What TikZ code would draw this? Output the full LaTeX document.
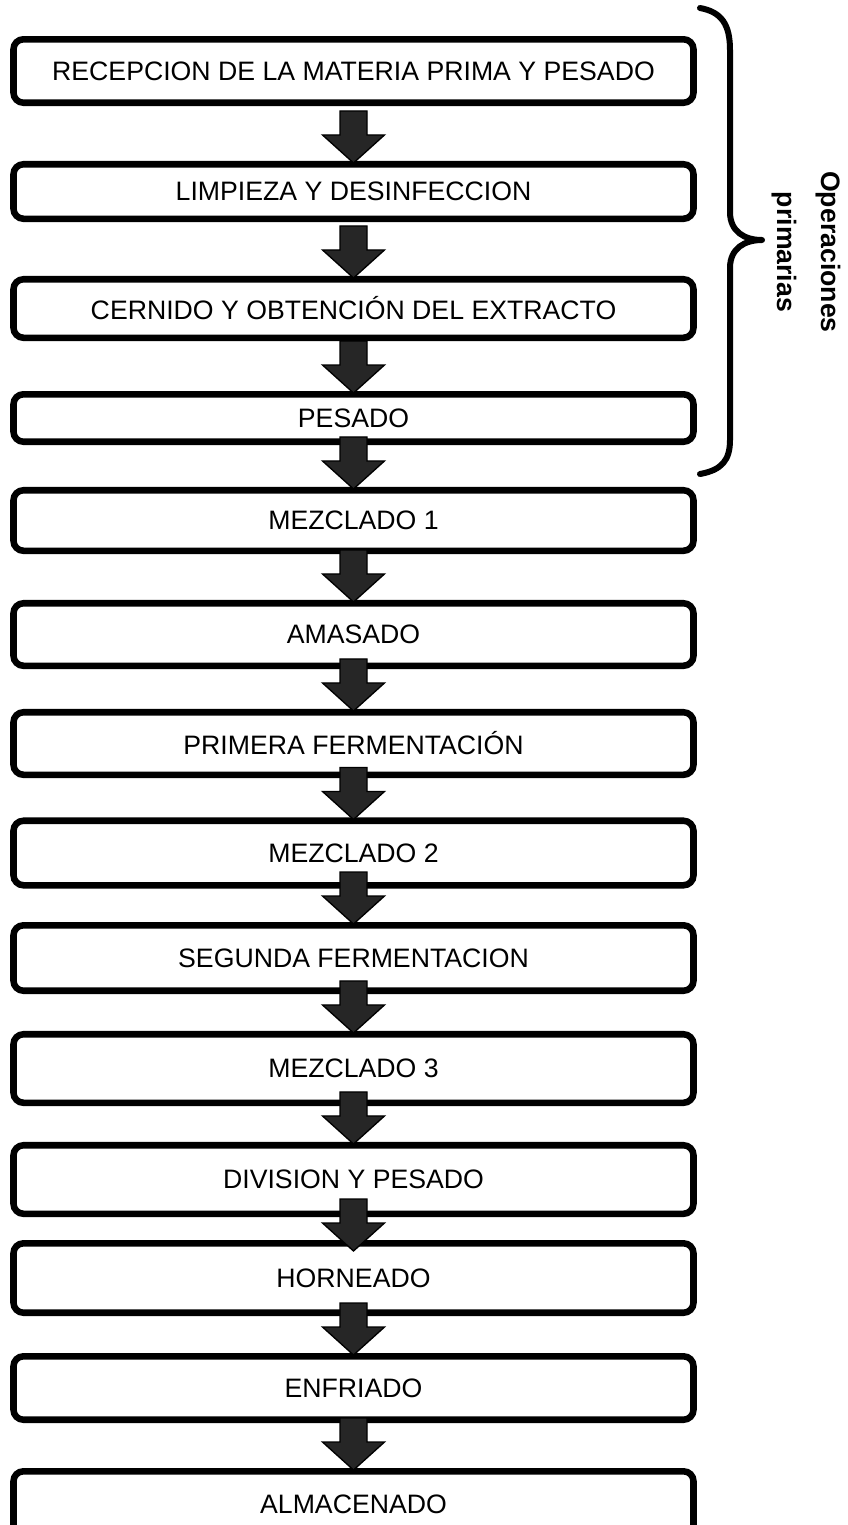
\documentclass[tikz,border=0pt]{standalone}
\usepackage{fontspec}
\setmainfont{Liberation Sans}
\usetikzlibrary{calc}
\newcommand{\flecha}[3][0]{%
  \path ($(#2.south |- #3.north)+(0,#1)$) coordinate (t);
  \draw[flechastyle] ($(t)+(-13.5,-50)$) -- ($(t)+(13.5,-50)$) -- ($(t)+(13.5,-26)$)
    -- ($(t)+(31,-26)$) -- ($(t)+(0,2)$) -- ($(t)+(-31,-26)$) -- ($(t)+(-13.5,-26)$) -- cycle;}
\begin{document}
\begin{tikzpicture}[x=0.75pt,y=-0.75pt,
  caja/.style={draw=black, line width=4.9pt, rounded corners=7.5pt, fill=white,
    minimum width=510pt, inner sep=0pt, font=\fontsize{20}{24}\selectfont, text=black},
  flechastyle/.style={fill=black!85, draw=black, line width=1pt, line join=miter},
  llave/.style={draw=black, line width=4.5pt, line cap=round, line join=round},
  rotulo/.style={rotate=-90, align=center, font=\bfseries\fontsize{20}{33}\selectfont}]
\clip (0,0) rectangle (847,1525);
\fill[white] (0,0) rectangle (847,1525);
% boxes
\node[caja, minimum height=47.6pt] (b1) at (353.5,71) {RECEPCION DE LA MATERIA PRIMA Y PESADO};
\node[caja, minimum height=40.9pt] (b2) at (353.5,191.5) {LIMPIEZA Y DESINFECCION};
\node[caja, minimum height=43.9pt] (b3) at (353.5,308.5) {CERNIDO Y OBTENCIÓN DEL EXTRACTO};
\node[caja, minimum height=35.6pt] (b4) at (353.5,418) {PESADO};
\node[caja, minimum height=45.4pt] (b5) at (353.5,520.5) {MEZCLADO 1};
\node[caja, minimum height=46.9pt] (b6) at (353.5,634.5) {AMASADO};
\node[caja, minimum height=46.9pt] (b7) at (353.5,743.5) {PRIMERA FERMENTACIÓN};
\node[caja, minimum height=48.4pt] (b8) at (353.5,853) {MEZCLADO 2};
\node[caja, minimum height=49.1pt] (b9) at (353.5,958) {SEGUNDA FERMENTACION};
\node[caja, minimum height=51.4pt] (b10) at (353.5,1068.5) {MEZCLADO 3};
\node[caja, minimum height=51.4pt] (b11) at (353.5,1179.5) {DIVISION Y PESADO};
\node[caja, minimum height=52.1pt] (b12) at (353.5,1278) {HORNEADO};
\node[caja, minimum height=47.6pt] (b13) at (353.5,1388) {ENFRIADO};
\node[caja, minimum height=49.1pt] (b14) at (353.5,1504) {ALMACENADO};
% arrows
\flecha{b1}{b2}
\flecha{b2}{b3}
\flecha{b3}{b4}
\flecha{b4}{b5}
\flecha{b5}{b6}
\flecha{b6}{b7}
\flecha{b7}{b8}
\flecha{b8}{b9}
\flecha{b9}{b10}
\flecha{b10}{b11}
\flecha[9]{b11}{b12}
\flecha{b12}{b13}
\flecha{b13}{b14}
% brace
\draw[llave] (700,8) .. controls (722,12) and (730,25) .. (730,50) -- (730,212)
  .. controls (730,232) and (745,240) .. (762,240)
  .. controls (745,240) and (730,248) .. (730,268) -- (730,440)
  .. controls (730,460) and (722,470) .. (700,474);
\node[rotulo] (lbl) at (806,252) {Operaciones\\primarias};
\end{tikzpicture}
\end{document}
